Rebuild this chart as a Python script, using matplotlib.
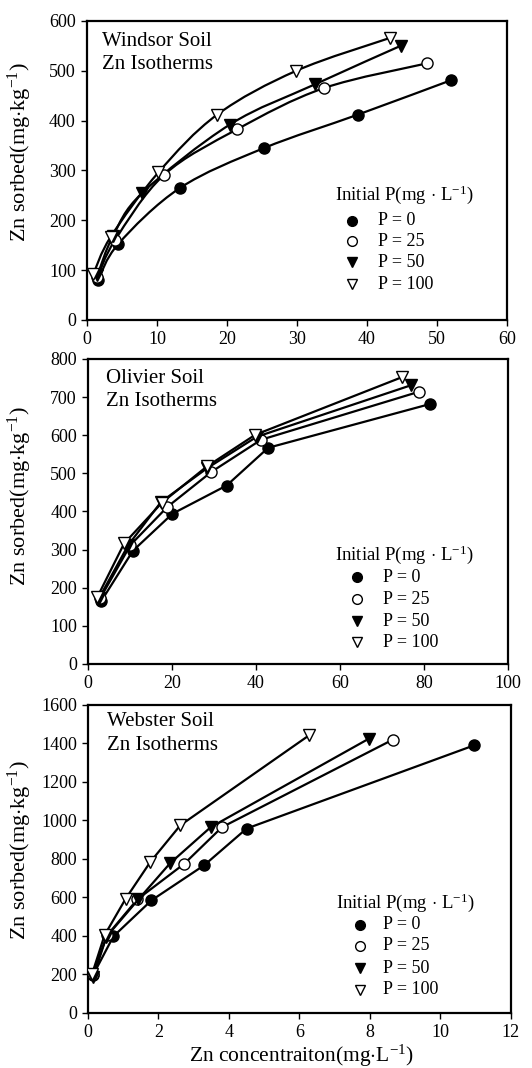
import matplotlib
matplotlib.use("Agg")
import matplotlib.pyplot as plt
from matplotlib.path import Path
from matplotlib.patches import PathPatch

plt.rcParams['font.family'] = ['Liberation Serif', 'DejaVu Serif']
plt.rcParams['mathtext.fontset'] = 'custom'
plt.rcParams['mathtext.rm'] = 'Liberation Serif'
plt.rcParams['mathtext.it'] = 'Liberation Serif:italic'
plt.rcParams['mathtext.bf'] = 'Liberation Serif:bold'

# ---- data: Zn concentration (mg/L) vs Zn sorbed (mg/kg) ----
levels = ['P = 0', 'P = 25', 'P = 50', 'P = 100']

windsor_p0_x = [1.6, 4.5, 13.3, 25.3, 38.7, 52.0]
windsor_p0_y = [80, 153, 265, 345, 412, 481]
windsor_p25_x = [1.5, 4.0, 11.0, 21.5, 33.8, 48.6]
windsor_p25_y = [86, 160, 291, 383, 465, 515]
windsor_p50_x = [1.5, 3.7, 7.9, 20.4, 32.6, 44.8]
windsor_p50_y = [90, 168, 255, 392, 473, 550]
windsor_p100_x = [0.9, 3.4, 10.2, 18.6, 29.9, 43.3]
windsor_p100_y = [92, 167, 296, 412, 500, 566]

olivier_p0_x = [3.1, 10.7, 20.1, 33.0, 42.9, 81.5]
olivier_p0_y = [164, 297, 394, 468, 567, 682]
olivier_p25_x = [2.9, 10.1, 18.9, 29.4, 41.2, 78.8]
olivier_p25_y = [172, 312, 412, 504, 588, 714]
olivier_p50_x = [2.6, 9.6, 17.4, 28.3, 40.2, 76.9]
olivier_p50_y = [172, 312, 425, 513, 596, 731]
olivier_p100_x = [2.2, 8.6, 17.6, 28.3, 39.8, 74.7]
olivier_p100_y = [175, 316, 423, 518, 601, 752]

webster_p0_x = [0.14, 0.72, 1.8, 3.3, 4.5, 10.95]
webster_p0_y = [196, 398, 585, 768, 958, 1390]
webster_p25_x = [0.13, 0.55, 1.4, 2.73, 3.8, 8.65]
webster_p25_y = [205, 405, 590, 775, 965, 1420]
webster_p50_x = [0.15, 0.52, 1.43, 2.33, 3.48, 7.97]
webster_p50_y = [185, 395, 590, 778, 965, 1425]
webster_p100_x = [0.12, 0.47, 1.07, 1.77, 2.62, 6.27]
webster_p100_y = [205, 404, 594, 785, 975, 1442]

panels = [
    dict(name='Windsor Soil',
         series=[(windsor_p0_x, windsor_p0_y), (windsor_p25_x, windsor_p25_y),
                 (windsor_p50_x, windsor_p50_y), (windsor_p100_x, windsor_p100_y)],
         xlim=(0, 60), xticks=[0, 10, 20, 30, 40, 50, 60],
         ylim=(0, 600), yticks=[0, 100, 200, 300, 400, 500, 600],
         smooth=True,
         rect=[0.1635, 0.7004, 0.7895, 0.2800],
         text_xy=(0.036, 0.917, 0.838),
         leg=(0.590, 0.401, 0.631, 0.693, [0.331, 0.264, 0.193, 0.120]),
         ylab=(-0.126, 0.562)),
    dict(name='Olivier Soil',
         series=[(olivier_p0_x, olivier_p0_y), (olivier_p25_x, olivier_p25_y),
                 (olivier_p50_x, olivier_p50_y), (olivier_p100_x, olivier_p100_y)],
         xlim=(0, 100), xticks=[0, 20, 40, 60, 80, 100],
         ylim=(0, 800), yticks=[0, 100, 200, 300, 400, 500, 600, 700, 800],
         smooth=False,
         rect=[0.1654, 0.3783, 0.7895, 0.2856],
         text_xy=(0.043, 0.922, 0.846),
         leg=(0.588, 0.341, 0.640, 0.702, [0.285, 0.213, 0.140, 0.072]),
         ylab=(-0.129, 0.551)),
    dict(name='Webster Soil',
         series=[(webster_p0_x, webster_p0_y), (webster_p25_x, webster_p25_y),
                 (webster_p50_x, webster_p50_y), (webster_p100_x, webster_p100_y)],
         xlim=(0, 12), xticks=[0, 2, 4, 6, 8, 10, 12],
         ylim=(0, 1600), yticks=[0, 200, 400, 600, 800, 1000, 1200, 1400, 1600],
         smooth=False,
         rect=[0.1654, 0.0515, 0.7950, 0.2884],
         text_xy=(0.045, 0.932, 0.854),
         leg=(0.586, 0.341, 0.643, 0.697, [0.286, 0.218, 0.146, 0.075]),
         ylab=(-0.128, 0.529)),
]

marker_styles = [
    dict(marker='o', mfc='black'),
    dict(marker='o', mfc='white'),
    dict(marker='v', mfc='black'),
    dict(marker='v', mfc='white'),
]


def smooth_path(xs, ys):
    """Catmull-Rom curve through the points, expressed as cubic Bezier segments."""
    pts = list(zip(xs, ys))
    n = len(pts)
    verts = [pts[0]]
    codes = [Path.MOVETO]
    for i in range(n - 1):
        p0 = pts[i - 1] if i > 0 else pts[i]
        p1 = pts[i]
        p2 = pts[i + 1]
        p3 = pts[i + 2] if i + 2 < n else pts[i + 1]
        c1 = (p1[0] + (p2[0] - p0[0]) / 6.0, p1[1] + (p2[1] - p0[1]) / 6.0)
        c2 = (p2[0] - (p3[0] - p1[0]) / 6.0, p2[1] - (p3[1] - p1[1]) / 6.0)
        verts += [c1, c2, p2]
        codes += [Path.CURVE4] * 3
    return Path(verts, codes)


fig = plt.figure(figsize=(5.32, 10.68), dpi=100)
fs_tick = 13
fs_name = 15
fs_ylab = 16
fs_leg = 13

for pnl in panels:
    ax = fig.add_axes(pnl['rect'])
    for (xs, ys), st in zip(pnl['series'], marker_styles):
        if pnl['smooth']:
            ax.add_patch(PathPatch(smooth_path(xs, ys), fill=False,
                                   edgecolor='black', lw=1.6, zorder=2))
            ax.plot(xs, ys, ls='none', marker=st['marker'], ms=8,
                    mfc=st['mfc'], mec='black', mew=1.0, zorder=3)
        else:
            ax.plot(xs, ys, color='black', lw=1.6, marker=st['marker'], ms=8,
                    mfc=st['mfc'], mec='black', mew=1.0, zorder=3)
    ax.set_xlim(*pnl['xlim'])
    ax.set_ylim(*pnl['ylim'])
    ax.set_xticks(pnl['xticks'])
    ax.set_yticks(pnl['yticks'])
    ax.tick_params(direction='out', length=4, width=1.0, labelsize=fs_tick,
                   pad=4, colors='black')
    for sp in ax.spines.values():
        sp.set_linewidth(1.6)

    tx, ty1, ty2 = pnl['text_xy']
    ax.text(tx, ty1, pnl['name'], transform=ax.transAxes, fontsize=fs_name,
            va='baseline', ha='left')
    ax.text(tx, ty2, 'Zn Isotherms', transform=ax.transAxes, fontsize=fs_name,
            va='baseline', ha='left')

    lx_title, ly_title, lx_mark, lx_text, ly_entries = pnl['leg']
    ax.text(lx_title, ly_title, r'Initial P(mg$\,\cdot\,$L$^{-1}$)',
            transform=ax.transAxes, fontsize=13.5, va='baseline', ha='left')
    for lab, st, ly in zip(levels, marker_styles, ly_entries):
        ax.plot([lx_mark], [ly], transform=ax.transAxes, ls='none',
                marker=st['marker'], ms=7, mfc=st['mfc'], mec='black',
                mew=1.0, clip_on=False)
        ax.text(lx_text, ly, lab, transform=ax.transAxes, fontsize=fs_leg,
                va='center', ha='left')

    ax.set_ylabel(r'Zn sorbed(mg$\cdot$kg$^{-1}$)', fontsize=fs_ylab)
    ax.yaxis.set_label_coords(*pnl['ylab'])
    last_ax = ax

last_ax.text(0.504, -0.159, r'Zn concentraiton(mg$\cdot$L$^{-1}$)',
             transform=last_ax.transAxes, fontsize=15.5,
             ha='center', va='baseline')

fig.savefig('out.png', dpi=100)
